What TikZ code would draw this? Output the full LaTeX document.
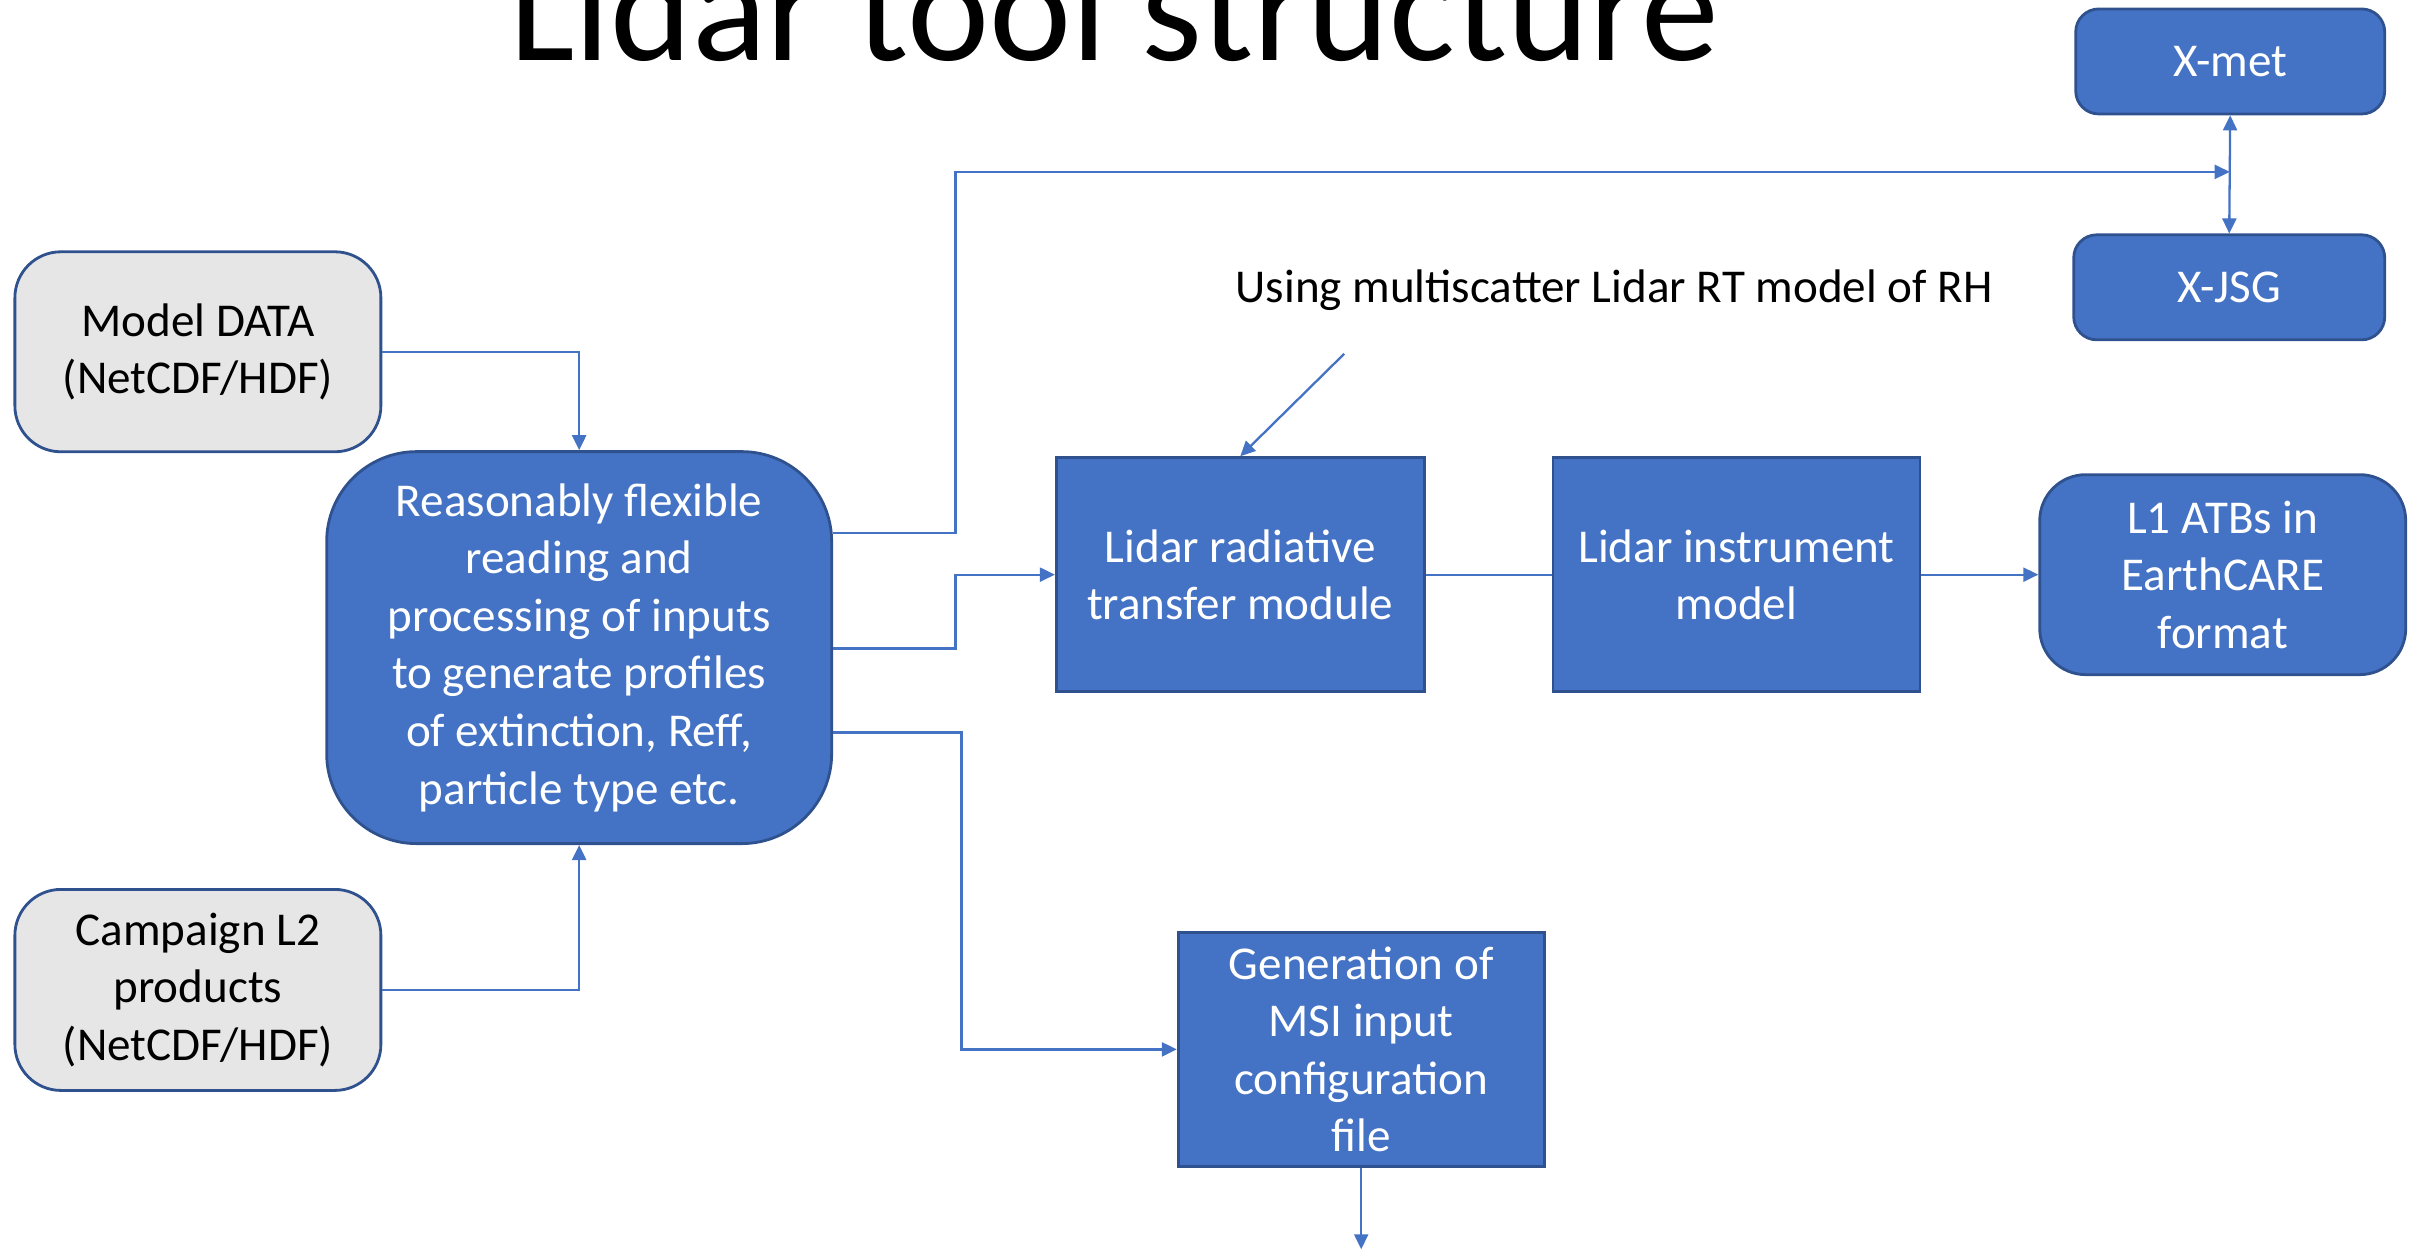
\documentclass[tikz,border=0pt]{standalone}
\usepackage{fontspec}
\setmainfont{Carlito}
\usetikzlibrary{arrows.meta}
\definecolor{accblue}{HTML}{4472C4}
\definecolor{accdark}{HTML}{2F528F}
\definecolor{boxgray}{HTML}{E7E6E6}
\tikzset{
  box/.style={draw=accdark, line width=0.8pt, fill=accblue, text=white, align=center, inner sep=0pt,
    font=\fontsize{13.4}{16.4}\selectfont},
  graybox/.style={box, fill=boxgray, text=black},
  conn/.style={draw=accblue, line width=0.65pt},
  arr/.style={conn, -{Triangle[length=0.15cm, width=0.14cm]}},
  darr/.style={conn, {Triangle[length=0.15cm, width=0.14cm]}-{Triangle[length=0.15cm, width=0.14cm]}},
}
\begin{document}
\begin{tikzpicture}
\useasboundingbox (0,0) rectangle (24.10,-12.51);
\begin{scope}[x=0.01cm, y=-0.01cm]
\node[anchor=base, font=\fontsize{44.3}{50}\selectfont] (title) at (1115,61) {Lidar tool structure};

\node[graybox, rounded corners=0.46cm, minimum width=3.66cm, minimum height=2.00cm] (model) at (198,352) {Model DATA\\(NetCDF/HDF)};
\node[graybox, rounded corners=0.46cm, minimum width=3.66cm, minimum height=2.01cm] (camp) at (198,990.5) {Campaign L2\\products\\(NetCDF/HDF)};
\node[box, rounded corners=0.9cm, minimum width=5.05cm, minimum height=3.92cm] (main) at (579.5,648) {Reasonably flexible\\reading and\\processing of inputs\\to generate profiles\\of extinction, Reff,\\particle type etc.};
\node[box, minimum width=3.68cm, minimum height=2.34cm] (rt) at (1241,575) {Lidar radiative\\transfer module};
\node[box, minimum width=3.67cm, minimum height=2.34cm] (inst) at (1737.5,575) {Lidar instrument\\model};
\node[box, rounded corners=0.46cm, minimum width=3.66cm, minimum height=2.00cm] (l1) at (2224,575) {L1 ATBs in\\EarthCARE\\format};
\node[box, rounded corners=0.23cm, minimum width=3.09cm, minimum height=1.05cm] (xmet) at (2231.5,61.5) {X-met};
\node[box, rounded corners=0.23cm, minimum width=3.11cm, minimum height=1.05cm] (xjsg) at (2230.5,287.5) {X-JSG};
\node[box, minimum width=3.66cm, minimum height=2.34cm] (msi) at (1362,1050) {Generation of\\MSI input\\configuration\\file};
\node[font=\fontsize{13.4}{16.4}\selectfont, inner sep=0pt] (using) at (1615,290) {Using multiscatter Lidar RT model of RH};

\coordinate (j) at (2231,172);
\coordinate (note) at (1345,354);
\coordinate (out) at (1362,1250);

\draw[arr] (model.east) -| (main.north);
\draw[arr] (camp.east) -| (main.south);
\draw[arr] (main.east |- 0,533) -- (956,533) |- (j);
\draw[darr] (xmet.south) -- (xjsg.north);
\draw[arr] (main.east |- 0,649) -- (956,649) |- (rt.west);
\draw[conn] (rt.east) -- (inst.west);
\draw[arr] (inst.east) -- (l1.west);
\draw[arr] (main.east |- 0,733) -- (962,733) |- (msi.west);
\draw[arr] (msi.south) -- (out);
\draw[arr] (note) -- (rt.north);
\end{scope}
\end{tikzpicture}
\end{document}
